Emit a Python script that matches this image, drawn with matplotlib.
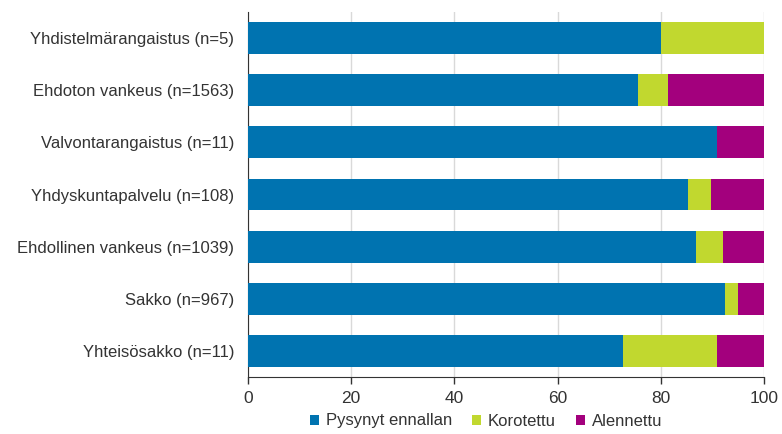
import matplotlib
matplotlib.use("Agg")
import matplotlib.pyplot as plt
import numpy as np

categories = ["Yhdistelmärangaistus (n=5)", "Ehdoton vankeus (n=1563)", "Valvontarangaistus (n=11)",
              "Yhdyskuntapalvelu (n=108)", "Ehdollinen vankeus (n=1039)", "Sakko (n=967)",
              "Yhteisösakko (n=11)"]
pysynyt = [80.0, 75.6, 90.9, 85.2, 86.9, 92.4, 72.7]
korotettu = [20.0, 5.7, 0.0, 4.6, 5.2, 2.5, 18.2]
alennettu = [0.0, 18.7, 9.1, 10.2, 7.9, 5.1, 9.1]
series_names = ["Pysynyt ennallan", "Korotettu", "Alennettu"]
colors = ["#0073B0", "#C1D82F", "#A3007D"]
xticks = [0, 20, 40, 60, 80, 100]

plt.rcParams['font.family'] = ['Liberation Sans', 'DejaVu Sans']
fig = plt.figure(figsize=(7.82, 4.34), dpi=100)
ax = fig.add_axes([248/782, 1-377/434, (764-248)/782, (377-12)/434])

y = np.arange(len(categories))
left = np.zeros(len(categories))
for vals, name, c in zip([pysynyt, korotettu, alennettu], series_names, colors):
    ax.barh(y, vals, left=left, height=0.61, color=c, label=name, zorder=3)
    left += np.array(vals)

ax.set_ylim(len(categories) - 0.5, -0.5)
ax.set_xlim(0, 100)
ax.set_xticks(xticks)
ax.set_yticks(y)
ax.set_yticklabels(categories, fontsize=12, color="#333333")
ax.tick_params(axis='x', labelsize=12.5, colors="#333333", length=5, width=1, direction='out', pad=5)
ax.tick_params(axis='y', length=0, pad=10)
ax.grid(axis='x', color="#d9d9d9", linewidth=1, zorder=0)
for s in ["top", "right"]:
    ax.spines[s].set_visible(False)
ax.spines["left"].set_color("#333333")
ax.spines["bottom"].set_color("#333333")

handles, labels = ax.get_legend_handles_labels()
fig.legend(handles, labels, loc='center', bbox_to_anchor=(486/782, 1-421/434), ncol=3,
           frameon=False, fontsize=12, handlelength=0.55, handleheight=0.55,
           handletextpad=0.4, columnspacing=1.2, labelcolor="#333333")
fig.savefig("out.png", dpi=100)
